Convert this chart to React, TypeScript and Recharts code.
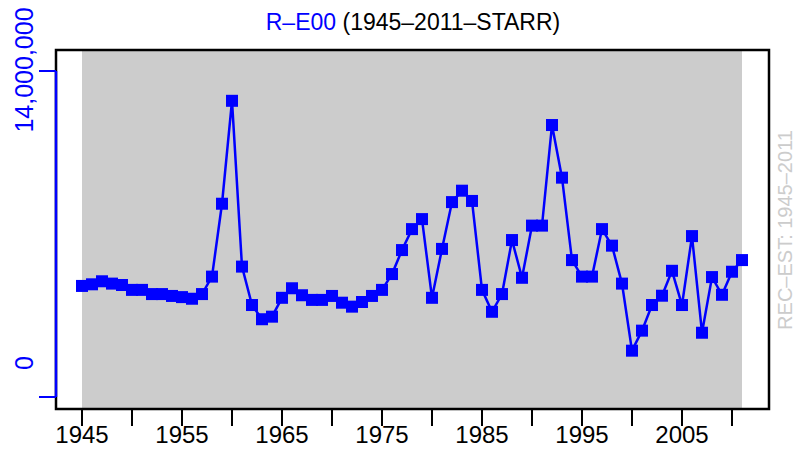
import React from "react";
import { LineChart, Line, XAxis, YAxis, ReferenceArea, ReferenceLine } from "recharts";

const years = [
  1945, 1946, 1947, 1948, 1949, 1950, 1951, 1952, 1953, 1954, 1955, 1956, 1957, 1958, 1959,
  1960, 1961, 1962, 1963, 1964, 1965, 1966, 1967, 1968, 1969, 1970, 1971, 1972, 1973, 1974,
  1975, 1976, 1977, 1978, 1979, 1980, 1981, 1982, 1983, 1984, 1985, 1986, 1987, 1988, 1989,
  1990, 1991, 1992, 1993, 1994, 1995, 1996, 1997, 1998, 1999, 2000, 2001, 2002, 2003, 2004,
  2005, 2006, 2007, 2008, 2009, 2010, 2011,
];

// R-E00 estimates
const values = [
  4770000, 4840000, 4970000, 4870000, 4810000, 4600000, 4600000, 4420000, 4420000, 4340000, 4290000, 4220000, 4420000, 5170000, 8300000,
  12720000, 5600000, 3950000, 3340000, 3450000, 4260000, 4670000, 4370000, 4170000, 4170000, 4340000, 4050000, 3880000, 4080000, 4340000,
  4600000, 5280000, 6310000, 7210000, 7640000, 4260000, 6360000, 8370000, 8860000, 8420000, 4600000, 3660000, 4420000, 6740000, 5120000,
  7360000, 7360000, 11680000, 9420000, 5880000, 5170000, 5170000, 7210000, 6500000, 4870000, 1990000, 2850000, 3950000, 4350000, 5420000,
  3950000, 6910000, 2760000, 5150000, 4390000, 5380000, 5880000,
];

const xTicks = [1945, 1950, 1955, 1960, 1965, 1970, 1975, 1980, 1985, 1990, 1995, 2000, 2005, 2010];
const xLabels = [1945, 1955, 1965, 1975, 1985, 1995, 2005];
const yTicks = [0, 14000000];

const X_DOMAIN: [number, number] = [1942.4, 2013.7];
const Y_DOMAIN: [number, number] = [-515000, 14902000];
const BLUE = "#0000ff";

const data = years.map((year, i) => ({ year, value: values[i] }));

const SquareDot = (props: any) => {
  const { cx, cy } = props;
  if (cx == null || cy == null) return null;
  return <rect x={cx - 6} y={cy - 6} width={12} height={12} fill={BLUE} />;
};

const XTick = (props: any) => {
  const { x, y, payload } = props;
  if (!xLabels.includes(payload.value)) return null;
  return (
    <text x={x} y={y + 6} textAnchor="middle" dominantBaseline="central" fontSize={24} fill="#000">
      {payload.value}
    </text>
  );
};

const YTick = (props: any) => {
  const { y, payload } = props;
  const label = payload.value.toLocaleString("en-US");
  // the "0" label sits above its tick in the original
  const cy = payload.value === 0 ? y - 34 : y - 1;
  return (
    <text
      x={24}
      y={cy}
      textAnchor="middle"
      dominantBaseline="central"
      fontSize={25}
      fill={BLUE}
      transform={`rotate(-90 24 ${cy})`}
    >
      {label}
    </text>
  );
};

export default function App() {
  return (
    <div style={{ position: "absolute", left: 0, top: 0, width: 804, height: 459, fontFamily: "'Liberation Sans', Arial, sans-serif" }}>
      <LineChart width={804} height={459} data={data} margin={{ top: 50, right: 35, left: 0, bottom: 0 }}>
        <XAxis
          dataKey="year"
          type="number"
          domain={X_DOMAIN}
          ticks={xTicks}
          allowDataOverflow
          axisLine={false}
          tickSize={17}
          tickLine={{ stroke: "#000", strokeWidth: 2 }}
          tick={<XTick />}
          height={50}
          interval={0}
        />
        <YAxis
          type="number"
          domain={Y_DOMAIN}
          ticks={yTicks}
          allowDataOverflow
          axisLine={false}
          tickSize={17}
          tickLine={{ stroke: BLUE, strokeWidth: 2 }}
          tick={<YTick />}
          width={56}
          interval={0}
        />
        <ReferenceArea x1={1945} x2={2011} y1={Y_DOMAIN[0]} y2={Y_DOMAIN[1]} fill="#cccccc" fillOpacity={1} stroke="none" />
        <ReferenceArea
          x1={X_DOMAIN[0]}
          x2={X_DOMAIN[1]}
          y1={Y_DOMAIN[0]}
          y2={Y_DOMAIN[1]}
          fill="none"
          stroke="#000"
          strokeWidth={2.5}
        />
        <ReferenceLine
          segment={[{ x: X_DOMAIN[0], y: 0 }, { x: X_DOMAIN[0], y: 14000000 }]}
          stroke={BLUE}
          strokeWidth={2.5}
        />
        <Line
          type="linear"
          dataKey="value"
          stroke={BLUE}
          strokeWidth={2.5}
          dot={<SquareDot />}
          isAnimationActive={false}
        />
      </LineChart>
      <svg width={804} height={459} style={{ position: "absolute", left: 0, top: 0, pointerEvents: "none" }}>
        <text x={413} y={30} textAnchor="middle" fontSize={23}>
          <tspan fill={BLUE}>R–E00</tspan>
          <tspan fill="#000"> (1945–2011–STARR)</tspan>
        </text>
        <text
          x={785}
          y={230}
          textAnchor="middle"
          dominantBaseline="central"
          fontSize={20}
          fill="#cccccc"
          transform="rotate(-90 785 230)"
        >
          REC–EST: 1945–2011
        </text>
      </svg>
    </div>
  );
}
